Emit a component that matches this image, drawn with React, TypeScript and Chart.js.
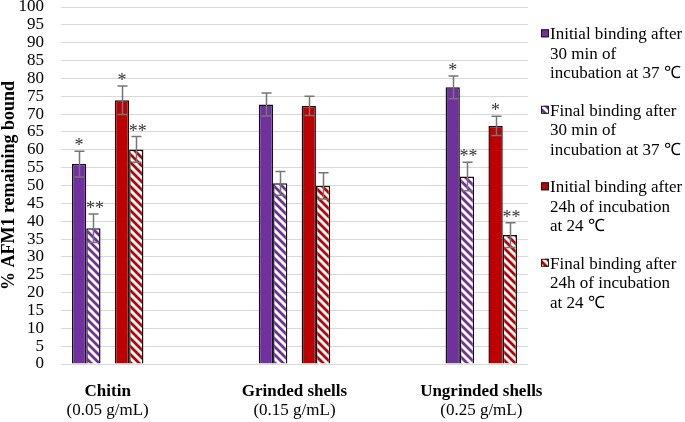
import React, { useEffect, useRef } from 'react';
import { Chart, registerables } from 'chart.js';

Chart.register(...registerables);

// ---- data ----
const categories = ['Chitin', '', 'Grinded shells', '', 'Ungrinded shells'];
const concentrations = ['(0.05 g/mL)', '', '(0.15 g/mL)', '', '(0.25 g/mL)'];
const yMin = 0;
const yMax = 100;
const yStep = 5;

const initial30 = [56.0, null, 72.7, null, 77.5];
const initial30Err = [3.6, null, 3.2, null, 3.2];
const initial30Sig = ['*', '', '', '', '*'];

const final30 = [38.0, null, 50.6, null, 52.5];
const final30Err = [4.0, null, 3.3, null, 4.0];
const final30Sig = ['**', '', '', '', '**'];

const initial24 = [73.9, null, 72.3, null, 66.7];
const initial24Err = [4.0, null, 2.7, null, 2.7];
const initial24Sig = ['*', '', '', '', '*'];

const final24 = [60.1, null, 49.9, null, 36.1];
const final24Err = [3.6, null, 3.7, null, 3.5];
const final24Sig = ['**', '', '', '', '**'];

const spacer = [null, null, null, null, null];

const seriesLabels = [
  ['Initial binding after', '30 min of', 'incubation at 37 \u2103'],
  ['Final binding after', '30 min of', 'incubation at 37 \u2103'],
  ['Initial binding after', '24h of incubation', 'at 24 \u2103'],
  ['Final binding after', '24h of incubation', 'at 24 \u2103'],
];

const yTitle = '% AFM1 remaining bound';

// ---- styles ----
const PURPLE = '#7030A0';
const RED = '#C00000';
const FONT = '"Liberation Serif", "Times New Roman", serif';

function makeStripe(ctx: CanvasRenderingContext2D, color: string) {
  const c = document.createElement('canvas');
  c.width = 8;
  c.height = 8;
  const g = c.getContext('2d')!;
  g.fillStyle = '#ffffff';
  g.fillRect(0, 0, 8, 8);
  g.strokeStyle = color;
  g.lineWidth = 2.8;
  g.beginPath();
  g.moveTo(-2, -2);
  g.lineTo(10, 10);
  g.moveTo(-2, 6);
  g.lineTo(2, 10);
  g.moveTo(6, -2);
  g.lineTo(10, 2);
  g.stroke();
  return ctx.createPattern(c, 'repeat')!;
}

const errorBarPlugin = {
  id: 'errorBars',
  afterDatasetsDraw(chart: any) {
    const ctx = chart.ctx;
    const y = chart.scales.y;
    chart.data.datasets.forEach((ds: any, i: number) => {
      if (!ds.errors) return;
      const meta = chart.getDatasetMeta(i);
      meta.data.forEach((bar: any, j: number) => {
        const v = ds.data[j];
        const e = ds.errors[j];
        if (v == null || e == null) return;
        const top = y.getPixelForValue(v + e);
        const bot = y.getPixelForValue(v - e);
        const x = Math.round(bar.x) + 0.5;
        ctx.save();
        ctx.strokeStyle = '#767676';
        ctx.lineWidth = 1.5;
        ctx.beginPath();
        ctx.moveTo(x, top);
        ctx.lineTo(x, bot);
        ctx.moveTo(x - 5, top);
        ctx.lineTo(x + 5, top);
        ctx.moveTo(x - 5, bot);
        ctx.lineTo(x + 5, bot);
        ctx.stroke();
        const s = ds.sig ? ds.sig[j] : '';
        if (s) {
          ctx.fillStyle = '#333333';
          ctx.font = '18px ' + FONT;
          ctx.textAlign = 'center';
          ctx.textBaseline = 'alphabetic';
          ctx.fillText(s, bar.x + (s.length > 1 ? 1.5 : 0), top);
        }
        ctx.restore();
      });
    });
  },
};

const sideLegendPlugin = {
  id: 'sideLegend',
  afterDraw(chart: any) {
    const ctx = chart.ctx;
    const markerX = chart.chartArea.right + 13;
    const textX = markerX + 9;
    const firstBaseline = 39.3;
    const itemGap = 76.5;
    const lineGap = 19.5;
    const items = chart.data.datasets.filter((d: any) => d.legendText);
    ctx.save();
    ctx.font = '17px ' + FONT;
    ctx.textAlign = 'left';
    ctx.textBaseline = 'alphabetic';
    items.forEach((ds: any, k: number) => {
      const base = firstBaseline + k * itemGap;
      ctx.fillStyle = ds.backgroundColor;
      ctx.fillRect(markerX, base - 10, 8, 8);
      ctx.strokeStyle = '#1a1a1a';
      ctx.lineWidth = 1;
      ctx.strokeRect(markerX + 0.5, base - 9.5, 7, 7);
      ctx.fillStyle = '#000';
      ds.legendText.forEach((line: string, li: number) => {
        ctx.fillText(line, textX, base + li * lineGap);
      });
    });
    ctx.restore();
  },
};

export default function App() {
  const ref = useRef<HTMLCanvasElement>(null);

  useEffect(() => {
    const canvas = ref.current!;
    const ctx = canvas.getContext('2d')!;
    const purpleStripe = makeStripe(ctx, PURPLE);
    const redStripe = makeStripe(ctx, RED);

    const barBase = {
      borderColor: '#111111',
      borderWidth: 1.5,
      barPercentage: 1,
      categoryPercentage: 0.765,
    };

    const chart = new Chart(canvas, {
      type: 'bar',
      data: {
        labels: categories,
        datasets: [
          { ...barBase, label: seriesLabels[0].join(' '), legendText: seriesLabels[0], data: initial30, errors: initial30Err, sig: initial30Sig, backgroundColor: PURPLE } as any,
          { ...barBase, label: seriesLabels[1].join(' '), legendText: seriesLabels[1], data: final30, errors: final30Err, sig: final30Sig, backgroundColor: purpleStripe } as any,
          { ...barBase, label: 'spacer', data: spacer, backgroundColor: 'rgba(0,0,0,0)', borderWidth: 0 } as any,
          { ...barBase, label: seriesLabels[2].join(' '), legendText: seriesLabels[2], data: initial24, errors: initial24Err, sig: initial24Sig, backgroundColor: RED } as any,
          { ...barBase, label: seriesLabels[3].join(' '), legendText: seriesLabels[3], data: final24, errors: final24Err, sig: final24Sig, backgroundColor: redStripe } as any,
        ],
      },
      options: {
        responsive: false,
        animation: false,
        layout: { padding: { top: 7, right: 157, left: 0, bottom: 0 } },
        plugins: {
          legend: { display: false },
          tooltip: { enabled: false },
          title: { display: false },
        },
        scales: {
          x: {
            type: 'category',
            offset: true,
            grid: { display: false, drawTicks: false },
            border: { display: false },
            ticks: {
              autoSkip: false,
              maxRotation: 0,
              minRotation: 0,
              padding: 17,
              color: '#000',
              font: { family: FONT, size: 17, weight: 'bold' },
            },
            afterFit(scale: any) {
              scale.height = 36;
              scale.paddingLeft = 0;
              scale.paddingRight = 0;
            },
          },
          x2: {
            type: 'category',
            axis: 'x',
            position: 'bottom',
            labels: concentrations,
            offset: true,
            grid: { display: false, drawTicks: false },
            border: { display: false },
            ticks: {
              autoSkip: false,
              maxRotation: 0,
              minRotation: 0,
              padding: 0,
              color: '#000',
              font: { family: FONT, size: 17 },
            },
            afterFit(scale: any) {
              scale.height = 22;
              scale.paddingLeft = 0;
              scale.paddingRight = 0;
            },
          },
          y: {
            min: yMin,
            max: yMax,
            grid: { color: '#d9d9d9', lineWidth: 1, drawTicks: false },
            border: { display: false },
            ticks: {
              stepSize: yStep,
              autoSkip: false,
              padding: 17,
              color: '#000',
              font: { family: FONT, size: 17 },
            },
            title: {
              display: true,
              text: yTitle,
              color: '#000',
              padding: 0,
              font: { family: FONT, size: 18, weight: 'bold', lineHeight: 1 },
            },
            afterFit(scale: any) {
              scale.width = 61;
              scale.paddingTop = 0;
              scale.paddingBottom = 0;
            },
          },
        },
      } as any,
      plugins: [errorBarPlugin, sideLegendPlugin],
    });

    return () => chart.destroy();
  }, []);

  return (
    <div style={{ position: 'absolute', left: 0, top: 0, width: 685, height: 422 }}>
      <canvas ref={ref} width={685} height={422} style={{ display: 'block' }} />
    </div>
  );
}
